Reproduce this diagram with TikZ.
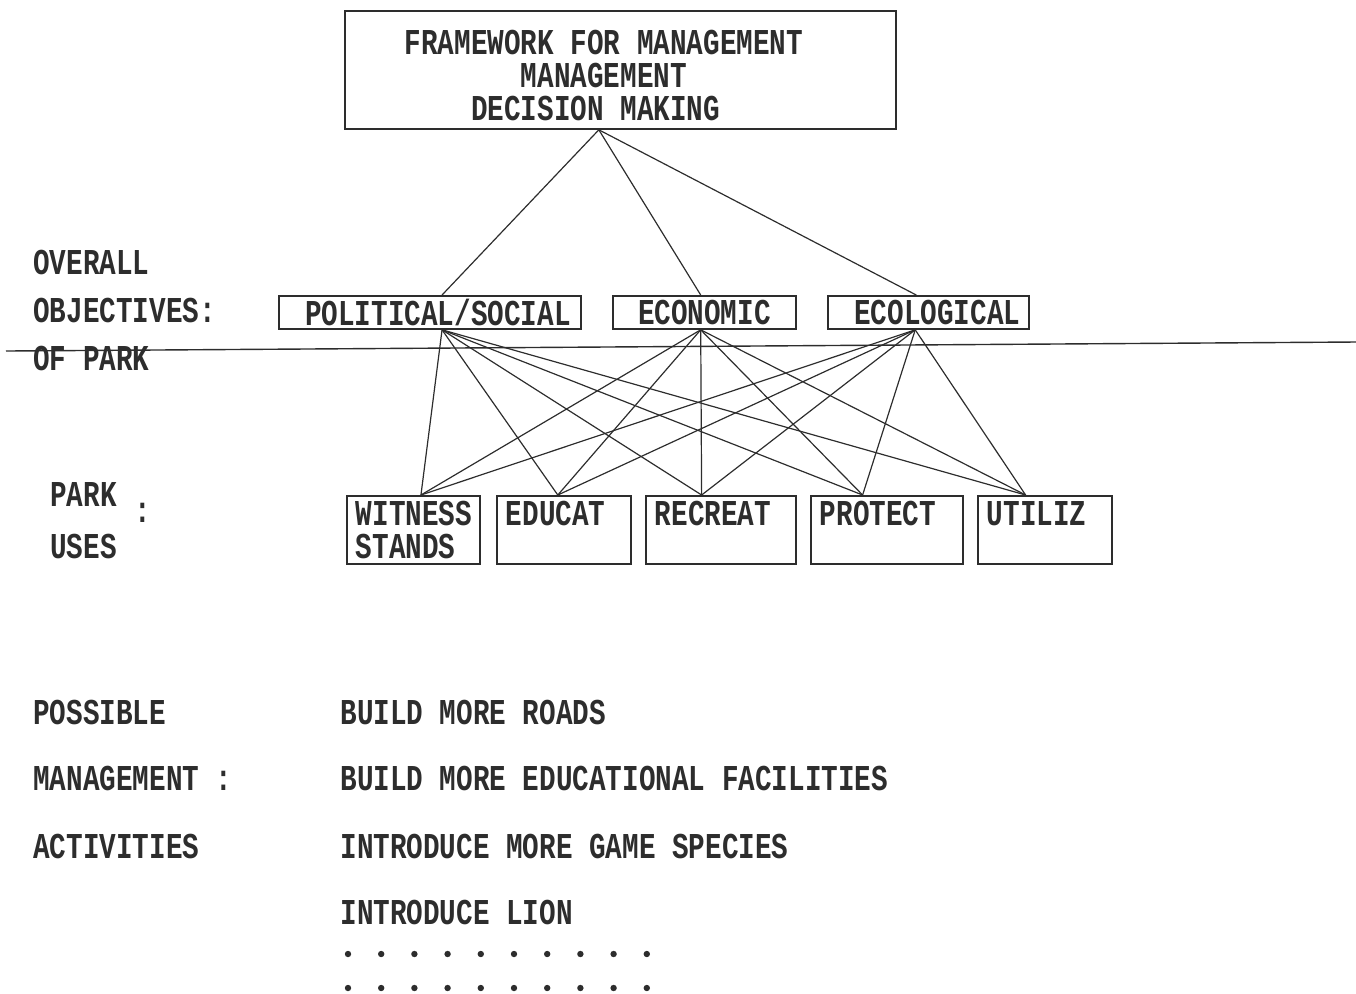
\documentclass[tikz,border=0pt]{standalone}
\usepackage{fontspec}
\setmonofont{Liberation Mono}[FakeStretch=0.76]
\usetikzlibrary{calc}

\definecolor{ink}{RGB}{45,45,45}

\tikzset{
  txt/.style={font=\ttfamily\bfseries\fontsize{18.2pt}{16.5pt}\selectfont, text=ink, inner sep=0pt},
  framebox/.style={draw=ink, line width=0.9pt, anchor=north west, inner sep=0pt},
  objbox/.style={framebox, txt, minimum height=16.5pt},
  usebox/.style={framebox, txt, inner xsep=4.5pt, minimum height=34pt, align=left},
  link/.style={draw=ink, line width=0.6pt}
}

\begin{document}
\begin{tikzpicture}[x=0.5pt, y=-0.5pt]
  \useasboundingbox (0,0) rectangle (1356,993);

  % top box
  \node[framebox, minimum width=275.5pt, minimum height=59pt] (frame) at (344,10) {};
  \node[txt, align=center] (frametxt) at (604,75) {FRAMEWORK FOR MANAGEMENT\\MANAGEMENT\\DECISION MAKING\hspace*{8.3pt}};

  % overall objectives
  \node[txt, anchor=west] (overall) at (33,262) {OVERALL};
  \node[txt, anchor=west] (objectives) at (33,310) {OBJECTIVES:};
  \node[txt, anchor=west] (ofpark) at (33,358) {OF PARK};
  \node[objbox, minimum width=151pt] (pol) at (278,295) {\hspace*{8pt}POLITICAL/SOCIAL};
  \node[objbox, minimum width=91.5pt] (eco) at (612,295) {ECONOMIC};
  \node[objbox, minimum width=100.5pt] (ecl) at (827,295) {\hspace*{9pt}ECOLOGICAL};

  \draw[ink, line width=0.7pt] (6,351) -- (1356,342);

  % park uses
  \node[txt, anchor=west] (park) at (50,494) {PARK};
  \node[txt] (usecolon) at (143,513) {:};
  \node[txt, anchor=west] (uses) at (50,546) {USES};
  \node[usebox, text width=57.5pt] (wit) at (346,495) {WITNESS\\STANDS};
  \node[usebox, text width=58pt] (edu) at (496,495) {EDUCAT\\\phantom{S}};
  \node[usebox, text width=66pt] (rec) at (645,495) {RECREAT\\\phantom{S}};
  \node[usebox, text width=67pt] (pro) at (810,495) {PROTECT\\\phantom{S}};
  \node[usebox, text width=58pt] (uti) at (977,495) {UTILIZ\\\phantom{S}};

  % connectors
  \foreach \o/\f in {pol/0.54, eco/0.48, ecl/0.44}
    \draw[link] ($(frame.south west)!0.461!(frame.south east)$) -- ($(\o.north west)!\f!(\o.north east)$);
  \foreach \o/\f in {pol/0.54, eco/0.48, ecl/0.435}
    \foreach \u/\g in {wit/0.556, edu/0.455, rec/0.373, pro/0.342, uti/0.358}
      \draw[link] ($(\o.south west)!\f!(\o.south east)$) -- ($(\u.north west)!\g!(\u.north east)$);

  % management activities
  \node[txt, anchor=west] (possible) at (33,712) {POSSIBLE};
  \node[txt, anchor=west] (management) at (33,778) {MANAGEMENT :};
  \node[txt, anchor=west] (activities) at (33,846) {ACTIVITIES};
  \node[txt, anchor=west] (roads) at (340,712) {BUILD MORE ROADS};
  \node[txt, anchor=west] (facilities) at (340,778) {BUILD MORE EDUCATIONAL FACILITIES};
  \node[txt, anchor=west] (species) at (340,846) {INTRODUCE MORE GAME SPECIES};
  \node[txt, anchor=west] (lion) at (340,912) {INTRODUCE LION};
  \foreach \i in {0,...,9} {
    \fill[ink] (348+33.2*\i,954) circle (1.6pt);
    \fill[ink] (348+33.2*\i,988) circle (1.6pt);
  }
\end{tikzpicture}
\end{document}
